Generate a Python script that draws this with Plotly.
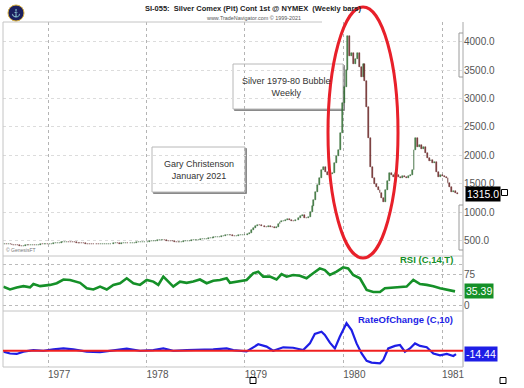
import pandas as pd
import plotly.graph_objects as go

# ---------------- data ----------------
# weekly closes (cents/oz), Fridays from 1976-07-23
closes_1976 = [445, 440, 442, 436, 430, 425, 420, 415, 412, 410, 412, 415,
               418, 414, 420, 425, 422, 428, 430, 435, 432, 438, 440, 438]
closes_1977 = [440, 445, 450, 455, 460, 462,
               468, 472, 478, 482, 480, 476, 472,
               468, 465, 460, 458, 455, 450, 448, 445,
               442, 440, 437, 435, 433, 432, 434, 436,
               438, 440, 442, 445, 447, 450, 452, 450,
               448, 450, 453, 455, 452, 455, 458, 462,
               465, 468, 470, 472, 475, 478, 480]
closes_1978 = [482, 485, 490, 495, 500, 505, 508, 512, 515,
               505, 498, 492, 488, 484, 480, 478, 475,
               478, 482, 486, 490, 495, 500, 505, 510,
               512, 515, 518, 522, 528, 532, 536, 540,
               545, 550, 555, 560, 565, 570, 575, 582, 590, 598, 605,
               595, 585, 580, 585, 590, 595, 598, 600]
closes_1979 = [605, 615, 640, 680,
               720, 760, 780, 775,
               760, 750, 745, 740, 750,
               745, 735, 728, 735, 790,
               830, 845, 850, 860, 875,
               862, 850, 848, 860, 870,
               900, 930, 950, 900,
               890, 920, 1010, 1100,
               1214, 1350, 1480, 1600,
               1740, 1800, 1700,
               1660, 1650, 1680, 1690,
               1865, 1980, 2094, 2394, 2920]
closes_1980 = [3200, 3500, 4100, 3750, 3800, 3600, 3700, 3800, 3550, 3380,
               3600, 3300, 2850, 2300, 1800, 1600, 1500, 1450, 1390, 1330,
               1250, 1180, 1390, 1550, 1690, 1650, 1620, 1690, 1650, 1620,
               1610, 1640, 1620, 1600, 1630, 1660, 1750, 2100, 2300, 2150,
               2180, 2120, 2150, 2040, 1950, 1900, 1920, 1870, 1880, 1700,
               1620, 1650]
closes_1981 = [1640, 1620, 1600, 1510, 1450, 1355, 1370, 1340, 1315]

# RSI (C,14,T) samples: decimal year, value
rsi_t = [1976.547, 1976.614, 1976.682, 1976.750, 1976.817, 1976.851, 1976.919,
         1977.020, 1977.088, 1977.156, 1977.223, 1977.325, 1977.393, 1977.460,
         1977.528, 1977.596, 1977.663, 1977.731, 1977.799, 1977.866, 1977.934,
         1978.002, 1978.069, 1978.120, 1978.171, 1978.205, 1978.272, 1978.340,
         1978.408, 1978.475, 1978.543, 1978.611, 1978.678, 1978.746, 1978.814,
         1978.848, 1978.915, 1979.017, 1979.084, 1979.135, 1979.186, 1979.254,
         1979.321, 1979.372, 1979.423, 1979.490, 1979.558, 1979.626, 1979.693,
         1979.761, 1979.812, 1979.863, 1979.931, 1979.998, 1980.049, 1980.100,
         1980.168, 1980.236, 1980.303, 1980.371, 1980.421, 1980.506, 1980.574,
         1980.641, 1980.709, 1980.777, 1980.845, 1980.912, 1980.980, 1981.048,
         1981.132]
rsi_v = [46.7, 40, 45, 48, 45, 53, 48,
         51, 55, 64, 63, 56, 43, 40,
         47, 40, 51, 55, 67, 55, 51,
         63, 59, 51, 71, 63, 47, 59,
         56, 59, 64, 55, 61, 63, 67,
         56, 59, 63, 79, 83, 71, 71,
         64, 77, 71, 75, 73, 67, 79,
         91, 87, 75, 83, 93.5, 91, 75,
         67, 39, 34, 34, 43, 45, 47,
         47, 63, 53, 51, 48, 43, 39,
         35.39]

# RateOfChange (C,10) samples: decimal year, value (%)
roc_t = [1976.547, 1976.614, 1976.682, 1976.750, 1976.851, 1976.953, 1977.054,
         1977.156, 1977.257, 1977.393, 1977.528, 1977.663, 1977.799, 1977.934,
         1978.069, 1978.171, 1978.272, 1978.408, 1978.543, 1978.678, 1978.814,
         1978.882, 1979.017, 1979.084, 1979.135, 1979.220, 1979.287, 1979.389,
         1979.490, 1979.592, 1979.660, 1979.710, 1979.778, 1979.812, 1979.863,
         1979.914, 1979.964, 1980.032, 1980.083, 1980.134, 1980.185, 1980.236,
         1980.286, 1980.371, 1980.404, 1980.455, 1980.523, 1980.574, 1980.624,
         1980.675, 1980.726, 1980.777, 1980.845, 1980.912, 1980.980, 1981.048,
         1981.115, 1981.142]
roc_v = [-4, -12, -14, -4, 3, 0, 6,
         10, 6, -4, -6, 0, 9, 0,
         3, 10, 0, 3, 3, 6, 10,
         3, -3, 15, 28, 18, 0, 15,
         13, 3, 32, 73, 83, 69, 35,
         10, 61, 120, 90, 32, -12, -44,
         -52, -55, -41, 10, 21, 25, -4,
         10, 32, 21, 15, -12, -20, -14,
         -23, -14.44]

year_ticks = ["1977", "1978", "1979", "1980", "1981"]
price_ticks = [500, 1000, 1500, 2000, 2500, 3000, 3500, 4000]
last_price = 1315.0
last_rsi = 35.39
last_roc = -14.44

# ---------------- helpers ----------------
def dec_to_date(t):
    y = int(t)
    a = pd.Timestamp(year=y, month=1, day=1)
    b = pd.Timestamp(year=y + 1, month=1, day=1)
    return a + (t - y) * (b - a)

W, H = 524, 388
L, R, T, B = 3, 61, 22, 21
PW, PH = W - L - R, H - T - B

def px(xp):
    return (xp - L) / PW

def py(yp):
    return (H - B - yp) / PH

closes = closes_1976 + closes_1977 + closes_1978 + closes_1979 + closes_1980 + closes_1981
dates = pd.date_range("1976-07-23", periods=len(closes), freq="7D")
opens = [closes[0]] + closes[:-1]
lows = [min(o, c) for o, c in zip(opens, closes)]
spans = [abs(c - o) for o, c in zip(opens, closes)]
body_colors = ["#37803a" if c >= o else "#7a2828" for o, c in zip(opens, closes)]
edge_colors = ["#2d5e2d" if c >= o else "#5e2020" for o, c in zip(opens, closes)]

FONT = "Liberation Sans, Arial, sans-serif"
GREEN = "#159028"
BLUE = "#1e1ee6"
xr = [dec_to_date(1976.543), dec_to_date(1981.213)]
grid_x = [pd.Timestamp(y + "-01-01") for y in year_ticks]
BAR_W = 3.5 * 24 * 3600 * 1000  # 3.5 days in ms

fig = go.Figure()
fig.add_trace(go.Bar(
    x=dates, y=spans, base=lows, width=BAR_W,
    marker=dict(color=body_colors, line=dict(color=edge_colors, width=0.5)),
    xaxis="x", yaxis="y", showlegend=False, hoverinfo="skip"))
fig.add_trace(go.Scatter(
    x=[dec_to_date(t) for t in rsi_t], y=rsi_v, mode="lines",
    line=dict(color=GREEN, width=2.6), xaxis="x2", yaxis="y2", showlegend=False))
fig.add_trace(go.Scatter(
    x=[dec_to_date(t) for t in roc_t], y=roc_v, mode="lines",
    line=dict(color=BLUE, width=2.2), xaxis="x3", yaxis="y3", showlegend=False))

xcommon = dict(range=xr, tickvals=grid_x, showgrid=True, gridcolor="#b4b4b4",
               griddash="dot", gridwidth=1, zeroline=False, ticks="",
               showline=False, fixedrange=True, automargin=False)
fig.update_layout(
    width=W, height=H, margin=dict(l=L, r=R, t=T, b=B, autoexpand=False),
    paper_bgcolor="white", plot_bgcolor="white", bargap=0,
    font=dict(family=FONT, size=10, color="#555555"),
    xaxis=dict(**xcommon, anchor="y", showticklabels=False),
    xaxis2=dict(**xcommon, anchor="y2", matches="x", showticklabels=False),
    xaxis3=dict(**xcommon, anchor="y3", matches="x", showticklabels=True,
                ticktext=year_ticks, ticklabelshift=11,
                tickfont=dict(size=10, color="#555555")),
    yaxis=dict(domain=[py(255), 1], range=[246, 4347], side="right",
               tickvals=price_ticks, tickformat=".1f", showgrid=True,
               gridcolor="#dcdcdc", griddash="dot", zeroline=False, ticks="",
               showline=False, automargin=False,
               tickfont=dict(size=10, color="#555555")),
    yaxis2=dict(domain=[py(310), py(257)], range=[-9.7, 118.5], side="right",
                tickvals=[0, 25, 75, 100], ticktext=["0", "", "75", ""],
                showgrid=True, gridcolor="#bbbbbb", griddash="dot",
                zeroline=False, ticks="", showline=False, automargin=False,
                tickfont=dict(size=10, color="#555555")),
    yaxis3=dict(domain=[0, py(312)], range=[-71, 169], side="right",
                showticklabels=False, showgrid=False, zeroline=False,
                ticks="", showline=False, automargin=False),
)

shapes = []
line_c = "#c4c4c4"
# frame lines
shapes.append(dict(type="line", xref="paper", yref="paper", x0=0, x1=px(322), y0=py(22), y1=py(22), line=dict(color=line_c, width=1)))
shapes.append(dict(type="line", xref="paper", yref="paper", x0=0, x1=0, y0=0, y1=py(22), line=dict(color=line_c, width=1)))
shapes.append(dict(type="line", xref="paper", yref="paper", x0=1, x1=1, y0=0, y1=py(22), line=dict(color="#a8a8a8", width=1)))
shapes.append(dict(type="line", xref="paper", yref="paper", x0=0, x1=1, y0=0, y1=0, line=dict(color=line_c, width=1)))
shapes.append(dict(type="line", xref="paper", yref="paper", x0=0, x1=1, y0=py(256), y1=py(256), line=dict(color=line_c, width=1)))
shapes.append(dict(type="line", xref="paper", yref="paper", x0=0, x1=1, y0=py(311), y1=py(311), line=dict(color=line_c, width=1)))
# right-axis brackets
for y0p, y1p in [(33, 77), (205, 250)]:
    shapes.append(dict(type="path", xref="paper", yref="paper",
                       path=f"M {px(463)},{py(y0p)} L {px(459)},{py(y0p)} L {px(459)},{py(y1p)} L {px(463)},{py(y1p)}",
                       line=dict(color="#9a9a9a", width=1)))
# text boxes (shadow + box)
for (x0, y0, x1, y1) in [(233, 64, 343, 109), (152, 147, 245, 192)]:
    shapes.append(dict(type="rect", xref="paper", yref="paper", layer="below",
                       x0=px(x0 + 1.5), x1=px(x1 + 1.5), y0=py(y1 + 1.5), y1=py(y0 + 1.5),
                       line=dict(color="#8a8a8a", width=1), fillcolor="#8a8a8a"))
    shapes.append(dict(type="rect", xref="paper", yref="paper", layer="below",
                       x0=px(x0), x1=px(x1), y0=py(y1), y1=py(y0),
                       line=dict(color="#b8b8b8", width=1), fillcolor="white"))
# zero line of ROC
shapes.append(dict(type="line", xref="paper", yref="y3", x0=0, x1=1, y0=0, y1=0,
                   line=dict(color="#f02020", width=2.2)))
# red ellipse
shapes.append(dict(type="circle", xref="paper", yref="paper",
                   x0=px(328), x1=px(398), y0=py(258), y1=py(7),
                   line=dict(color="#e8202a", width=3)))
# logo
shapes.append(dict(type="circle", xref="paper", yref="paper",
                   x0=px(8), x1=px(24), y0=py(21), y1=py(5),
                   line=dict(color="#d8b040", width=1), fillcolor="#1b1f5e"))
# little squares
for cx, cy in [(504.5, 192.5), (253, 380.5), (503, 380.5)]:
    shapes.append(dict(type="rect", xref="paper", yref="paper",
                       x0=px(cx - 3), x1=px(cx + 3), y0=py(cy + 3), y1=py(cy - 3),
                       line=dict(color="black", width=1), fillcolor="rgba(0,0,0,0)"))
fig.update_layout(shapes=shapes)

ann = []
def A(text, x, y, size, color="#333333", xanchor="center", yanchor="middle", **kw):
    d = dict(text=text, xref="paper", yref="paper", x=px(x), y=py(y), showarrow=False,
             font=dict(family=FONT, size=size, color=color), xanchor=xanchor,
             yanchor=yanchor)
    d.update(kw)
    ann.append(d)

A("<b>SI-055:  Silver Comex (Pit) Cont 1st @ NYMEX  (Weekly bars)</b>", 253, 9, 7.5, "#222222")
A("www.TradeNavigator.com © 1999-2021", 253, 18, 5.4, "#555555")
A("⚓", 16, 13, 8, "#e0b840")
A("Silver 1979-80 Bubble<br>Weekly", 286, 86.5, 9, "#333333")
A("Gary Christenson<br>January 2021", 199, 170, 9, "#333333")
A("© GenesisFT", 4, 250, 5, "#777777", xanchor="left")
A("<b>RSI (C,14,T)</b>", 455, 259.5, 9.5, GREEN, xanchor="right")
A("<b>RateOfChange (C,10)</b>", 455, 319, 9.5, BLUE, xanchor="right")
fig.update_layout(annotations=ann)

# value tags on the right axis
fig.add_annotation(text=f"{last_price:.1f}", xref="paper", yref="y", x=px(464.5), y=last_price,
                   xanchor="left", yanchor="middle", showarrow=False, bgcolor="black",
                   borderpad=1, font=dict(family=FONT, size=10.5, color="white"))
fig.add_annotation(text=f"{last_rsi:.2f}", xref="paper", yref="y2", x=px(463.5), y=last_rsi,
                   xanchor="left", yanchor="middle", showarrow=False, bgcolor=GREEN,
                   borderpad=1, font=dict(family=FONT, size=10.5, color="white"))
fig.add_annotation(text=f"{last_roc:.2f}", xref="paper", yref="y3", x=px(463.5), y=last_roc,
                   xanchor="left", yanchor="middle", showarrow=False, bgcolor=BLUE,
                   borderpad=1, font=dict(family=FONT, size=10.5, color="white"))

fig.write_html("out.html", config={"displayModeBar": False},
               post_script="document.body.style.margin='0';document.body.style.overflow='hidden';")
